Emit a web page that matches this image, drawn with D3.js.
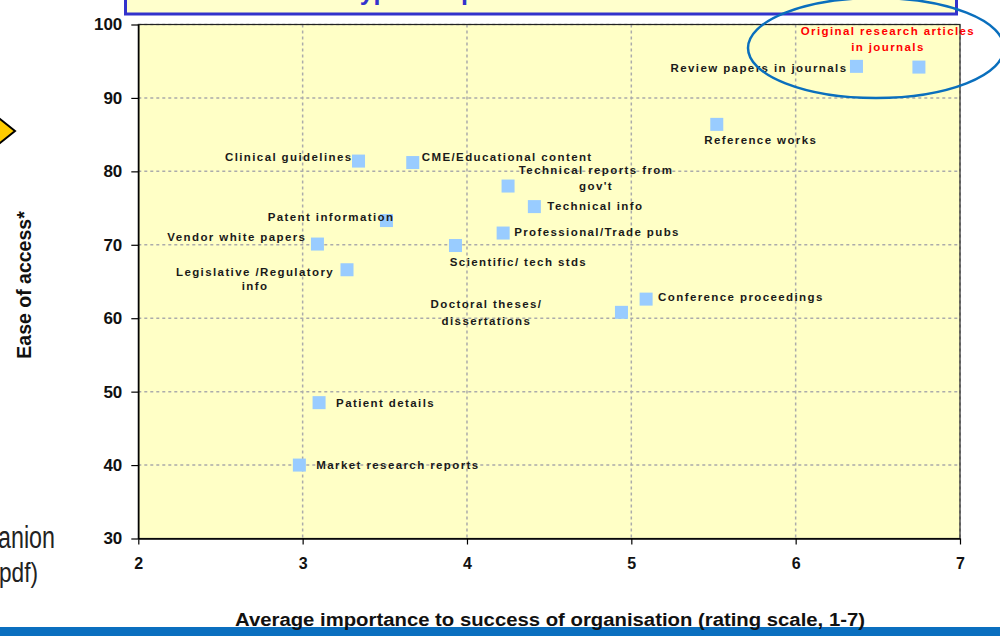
<!DOCTYPE html>
<html><head><meta charset="utf-8">
<script src="https://cdn.jsdelivr.net/npm/d3@7"></script>
<style>
body{margin:0;background:#fff;overflow:hidden}
svg{display:block;font-family:"Liberation Sans",Arial,Helvetica,sans-serif}
</style>
</head><body>
<svg id="chart" width="1000" height="636"></svg>
<script>
// ---- data ----
const categories = [
  "Original research articles in journals",
  "Review papers in journals",
  "Reference works",
  "Clinical guidelines",
  "CME/Educational content",
  "Technical reports from gov't",
  "Technical info",
  "Patent information",
  "Professional/Trade pubs",
  "Vendor white papers",
  "Scientific/ tech stds",
  "Legislative /Regulatory info",
  "Conference proceedings",
  "Doctoral theses/ dissertations",
  "Patient details",
  "Market research reports"
];
const importance = [6.75, 6.37, 5.52, 3.34, 3.67, 4.25, 4.41, 3.51, 4.22, 3.09, 3.93, 3.27, 5.09, 4.94, 3.10, 2.98];
const easeOfAccess = [94.2, 94.3, 86.4, 81.4, 81.2, 78.0, 75.2, 73.3, 71.6, 70.1, 69.9, 66.6, 62.6, 60.8, 48.5, 40.0];
const labelLines = [
  ["Original research articles", "in journals"],
  ["Review papers in journals"],
  ["Reference works"],
  ["Clinical guidelines"],
  ["CME/Educational content"],
  ["Technical reports from", "gov't"],
  ["Technical info"],
  ["Patent information"],
  ["Professional/Trade pubs"],
  ["Vendor white papers"],
  ["Scientific/ tech stds"],
  ["Legislative /Regulatory", "info"],
  ["Conference proceedings"],
  ["Doctoral theses/", "dissertations"],
  ["Patient details"],
  ["Market research reports"]
];
const xTicks = [2, 3, 4, 5, 6, 7];
const yTicks = [30, 40, 50, 60, 70, 80, 90, 100];
const xTitle = "Average importance to success of organisation (rating scale, 1-7)";
const yTitle = "Ease of access*";

// ---- label layout (offsets from the marker, px) ----
const labelLayout = [
  {dx: -31, dy: -32, anchor: "middle", lh: 16, color: "#ff0000"},
  {dx: -9, dy: 6, anchor: "end"},
  {dx: 44, dy: 20, anchor: "middle"},
  {dx: -6, dy: 0, anchor: "end"},
  {dx: 9, dy: -2, anchor: "start"},
  {dx: 88, dy: -12, anchor: "middle", lh: 16},
  {dx: 13, dy: 3, anchor: "start"},
  {dx: 8, dy: 0, anchor: "end"},
  {dx: 11, dy: 3, anchor: "start"},
  {dx: -11, dy: -3, anchor: "end"},
  {dx: 63, dy: 20, anchor: "middle"},
  {dx: -92, dy: 6, anchor: "middle", lh: 14.5},
  {dx: 12, dy: 2, anchor: "start"},
  {dx: -135, dy: -4, anchor: "middle", lh: 16.5},
  {dx: 17, dy: 4, anchor: "start"},
  {dx: 17, dy: 4, anchor: "start"}
];

const svg = d3.select("#chart");
const pL = 138.3, pR = 960, pT = 24.5, pB = 538.5;
const x = d3.scaleLinear().domain([2, 7]).range([pL, pR]);
const y = d3.scaleLinear().domain([30, 100]).range([pB, pT]);

// slide decorations
svg.append("polygon")
  .attr("points", "15,131 -5,115 -25,131 -5,147")
  .attr("fill", "#ffcc00").attr("stroke", "#000").attr("stroke-width", 2);

const titleBox = svg.append("g");
titleBox.append("rect").attr("x", 125.5).attr("y", -10).attr("width", 831).attr("height", 24)
  .attr("fill", "#ffffcc").attr("stroke", "#3333cc").attr("stroke-width", 3);
titleBox.append("text").attr("x", 250).attr("y", -0.5)
  .attr("font-size", 25).attr("font-weight", "bold").attr("fill", "#3333cc")
  .text("Content types: importance vs. ease of access");

svg.append("text").attr("x", -2).attr("y", 548).attr("font-size", 31)
  .attr("fill", "#222").attr("textLength", 57).attr("lengthAdjust", "spacingAndGlyphs").text("anion");
svg.append("text").attr("x", -1).attr("y", 582).attr("font-size", 28)
  .attr("fill", "#222").attr("textLength", 39).attr("lengthAdjust", "spacingAndGlyphs").text("pdf)");

// plot area
svg.append("rect").attr("x", pL).attr("y", pT).attr("width", pR - pL).attr("height", pB - pT)
  .attr("fill", "#ffffc6");

// grid
const grid = svg.append("g").attr("stroke", "#ababab").attr("stroke-width", 1.5).attr("stroke-dasharray", "3,3");
grid.selectAll("line.h").data(yTicks.filter(d => d > 30)).join("line").attr("class", "h")
  .attr("x1", pL).attr("x2", pR).attr("y1", d => y(d)).attr("y2", d => y(d));
grid.selectAll("line.v").data(xTicks.filter(d => d > 2)).join("line").attr("class", "v")
  .attr("y1", pT).attr("y2", pB).attr("x1", d => x(d)).attr("x2", d => x(d));

// plot border
svg.append("rect").attr("x", pL).attr("y", pT).attr("width", pR - pL).attr("height", pB - pT)
  .attr("fill", "none").attr("stroke", "#222").attr("stroke-width", 1.2);

// axes
const yAxis = svg.append("g").attr("transform", `translate(${pL},0)`)
  .call(d3.axisLeft(y).tickValues(yTicks).tickSize(7).tickSizeOuter(0).tickPadding(9).tickFormat(d3.format("d")));
const xAxis = svg.append("g").attr("transform", `translate(0,${pB})`)
  .call(d3.axisBottom(x).tickValues(xTicks).tickSize(6).tickSizeOuter(0).tickPadding(13).tickFormat(d3.format("d")));
[yAxis, xAxis].forEach(a => {
  a.select(".domain").attr("stroke", "#000").attr("stroke-width", 1.5);
  a.selectAll(".tick line").attr("stroke", "#000").attr("stroke-width", 1.2);
  a.selectAll(".tick text").attr("fill", "#111").attr("font-weight", "bold")
    .attr("font-family", '"Liberation Sans",Arial,sans-serif');
});
yAxis.selectAll(".tick text").attr("font-size", 17);
xAxis.selectAll(".tick text").attr("font-size", 16);

// markers
const pts = categories.map((c, i) => ({c, x: importance[i], y: easeOfAccess[i], lines: labelLines[i], lay: labelLayout[i]}));
svg.append("g").selectAll("rect").data(pts).join("rect")
  .attr("x", d => x(d.x) - 6.5).attr("y", d => y(d.y) - 6.5)
  .attr("width", 13).attr("height", 13).attr("fill", "#99ccff");

// labels
const lg = svg.append("g").attr("font-size", 11.5).attr("font-weight", "bold").attr("letter-spacing", 1.4);
pts.forEach(d => {
  const t = lg.append("text")
    .attr("text-anchor", d.lay.anchor)
    .attr("fill", d.lay.color || "#1a1a1a");
  d.lines.forEach((ln, k) => {
    t.append("tspan")
      .attr("x", x(d.x) + d.lay.dx)
      .attr("y", y(d.y) + d.lay.dy + k * (d.lay.lh || 15))
      .text(ln);
  });
});

// ellipse highlight
svg.append("ellipse").attr("cx", 876).attr("cy", 48).attr("rx", 128).attr("ry", 50)
  .attr("fill", "none").attr("stroke", "#0a6fbd").attr("stroke-width", 2.5);

// bottom bar + axis titles
svg.append("rect").attr("x", 0).attr("y", 627).attr("width", 1000).attr("height", 9).attr("fill", "#0b6fbf");
svg.append("text").attr("x", 550).attr("y", 626).attr("text-anchor", "middle")
  .attr("font-size", 18).attr("font-weight", "bold").attr("fill", "#111")
  .attr("textLength", 630).attr("lengthAdjust", "spacingAndGlyphs").text(xTitle);
svg.append("text").attr("transform", "translate(31,285) rotate(-90)").attr("text-anchor", "middle")
  .attr("font-size", 19.5).attr("font-weight", "bold").attr("fill", "#111").text(yTitle);
</script>
</body></html>
